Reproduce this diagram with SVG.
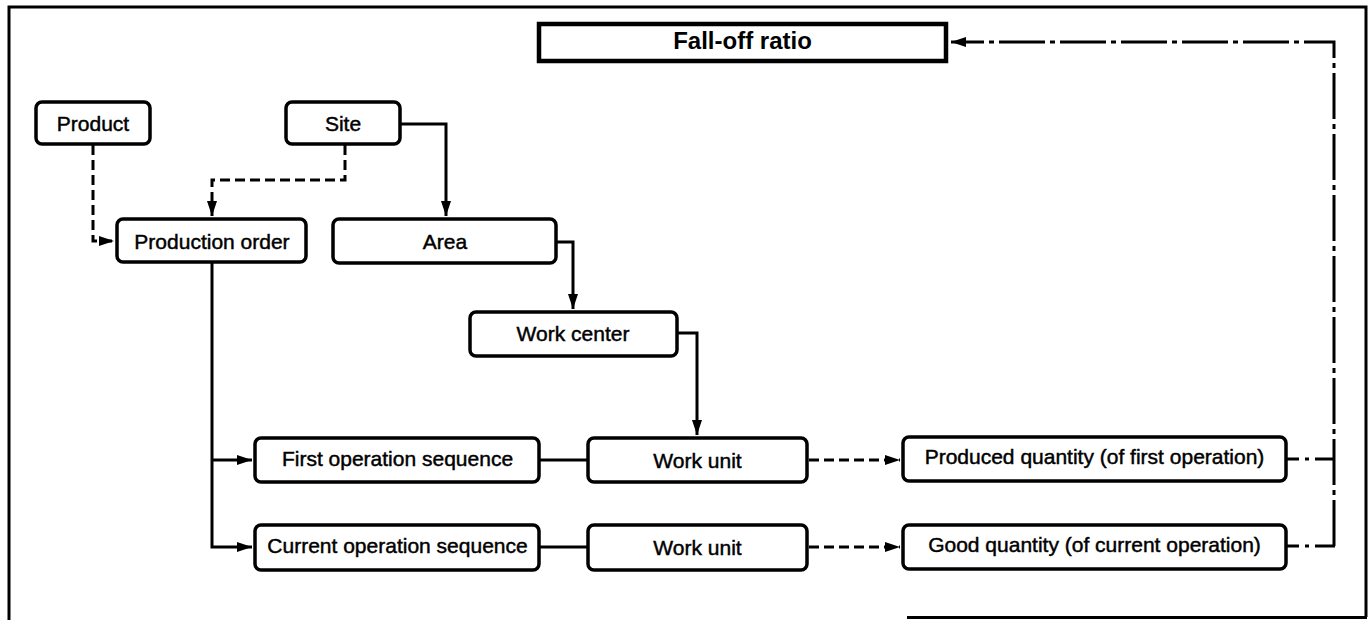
<svg xmlns="http://www.w3.org/2000/svg" width="1371" height="620" viewBox="0 0 1371 620">
<style>
.node rect{fill:#fff;stroke:#000;stroke-width:3.5}
.node text{font-family:"Liberation Sans",Arial,sans-serif;font-size:21px;fill:#000;stroke:#000;stroke-width:0.45;text-anchor:middle}
.title rect{fill:#fff;stroke:#000;stroke-width:4.5}
.title text{font-family:"Liberation Sans",Arial,sans-serif;font-size:24px;font-weight:bold;fill:#000;text-anchor:middle}
.c{fill:none;stroke:#000;stroke-width:3}
.dash{stroke-dasharray:10 5}
.dashdot{stroke-dasharray:46 5 5 5}
.stub{stroke-dasharray:12 6 4 6 40}
.frame{fill:none;stroke:#000;stroke-width:3}
</style>
<defs>
<marker id="arr" markerUnits="userSpaceOnUse" markerWidth="16" markerHeight="11" refX="15" refY="5.5" orient="auto">
<path d="M0,0.5 L15,5.5 L0,10.5 z" fill="#000"/>
</marker>
</defs>
<g id="frame">
<path class="frame" d="M9,620 V7 H1366 V617"/>
<path class="frame" d="M907,617.5 H1367" stroke-width="2.5"/>
</g>
<g id="connectors">
<path class="c dash" d="M93,145 V241 H114" marker-end="url(#arr)"/>
<path class="c dash" d="M345,145 V180 H212 V216" marker-end="url(#arr)"/>
<path class="c" d="M401,124 H446 V216" marker-end="url(#arr)"/>
<path class="c" d="M557,242 H573 V309" marker-end="url(#arr)"/>
<path class="c" d="M677,333 H697 V435" marker-end="url(#arr)"/>
<path class="c" d="M212,263 V547 H252" marker-end="url(#arr)"/>
<path class="c" d="M212,460 H252" marker-end="url(#arr)"/>
<path class="c" d="M540,460 H587"/>
<path class="c" d="M540,547 H587"/>
<path class="c dash" d="M809,460 H900" marker-end="url(#arr)"/>
<path class="c dash" d="M809,547 H900" marker-end="url(#arr)"/>
<path class="c stub" d="M1287,459 H1335"/>
<path class="c stub" d="M1287,546 H1335"/>
<path class="c dashdot" d="M1334,546 V42 H951" marker-end="url(#arr)"/>
</g>
<g id="fall-off-ratio" class="title">
<rect x="539" y="24" width="407" height="37"/>
<text x="742.5" y="48.5">Fall-off ratio</text>
</g>
<g id="product" class="node">
<rect x="36" y="102" width="114" height="42" rx="6"/>
<text x="93" y="131">Product</text>
</g>
<g id="site" class="node">
<rect x="286" y="102" width="114" height="42" rx="6"/>
<text x="343" y="131">Site</text>
</g>
<g id="production-order" class="node">
<rect x="117" y="219" width="189" height="43" rx="6"/>
<text x="212" y="249">Production order</text>
</g>
<g id="area" class="node">
<rect x="333" y="219" width="223" height="44" rx="6"/>
<text x="445" y="248.5">Area</text>
</g>
<g id="work-center" class="node">
<rect x="470" y="312" width="207" height="44" rx="6"/>
<text x="573" y="341">Work center</text>
</g>
<g id="first-operation-sequence" class="node">
<rect x="255" y="438" width="284" height="44" rx="6"/>
<text x="397.5" y="466">First operation sequence</text>
</g>
<g id="current-operation-sequence" class="node">
<rect x="255" y="525" width="284" height="45" rx="6"/>
<text x="397.5" y="552.5">Current operation sequence</text>
</g>
<g id="work-unit-1" class="node">
<rect x="588" y="438" width="219" height="44" rx="6"/>
<text x="697.5" y="468">Work unit</text>
</g>
<g id="work-unit-2" class="node">
<rect x="588" y="525" width="219" height="45" rx="6"/>
<text x="697.5" y="555">Work unit</text>
</g>
<g id="produced-quantity" class="node">
<rect x="903" y="437" width="383" height="44" rx="6"/>
<text x="1094.5" y="463.5">Produced quantity (of first operation)</text>
</g>
<g id="good-quantity" class="node">
<rect x="903" y="525" width="383" height="44" rx="6"/>
<text x="1094.5" y="552">Good quantity (of current operation)</text>
</g>
</svg>
